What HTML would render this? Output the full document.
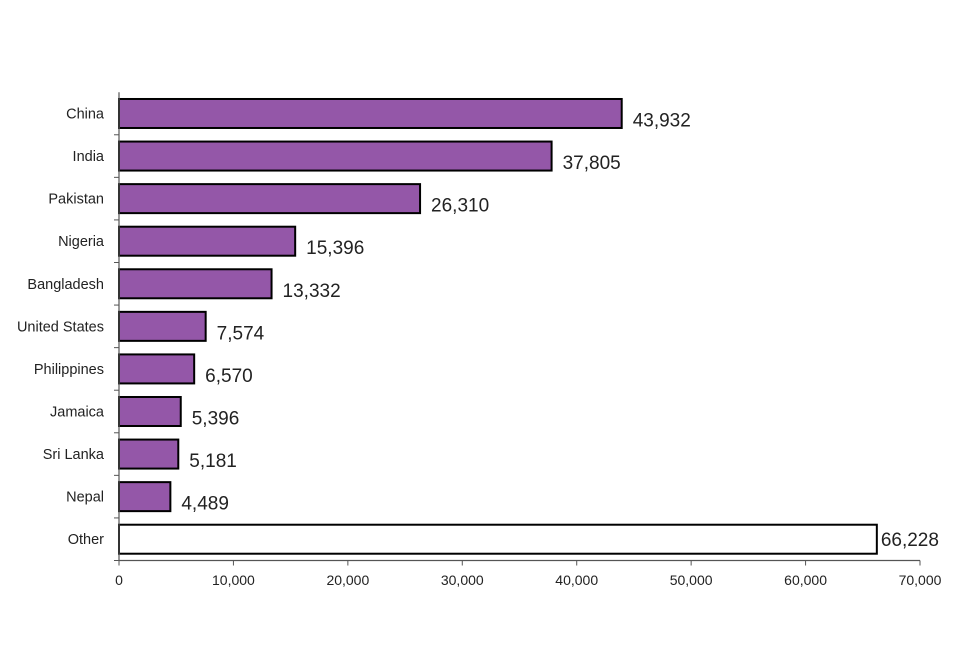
<!DOCTYPE html>
<html><head><meta charset="utf-8"><style>
body{margin:0;background:#fff;}
svg text{font-family:"Liberation Sans",Arial,sans-serif;fill:#222;}
</style></head><body>
<svg id="chart" width="960" height="640" xmlns="http://www.w3.org/2000/svg"></svg>
<script>
const categories=["China","India","Pakistan","Nigeria","Bangladesh","United States","Philippines","Jamaica","Sri Lanka","Nepal","Other"];
const values=[43932,37805,26310,15396,13332,7574,6570,5396,5181,4489,66228];
const valueLabels=["43,932","37,805","26,310","15,396","13,332","7,574","6,570","5,396","5,181","4,489","66,228"];
const xTicks=[0,10000,20000,30000,40000,50000,60000,70000];
const xTickLabels=["0","10,000","20,000","30,000","40,000","50,000","60,000","70,000"];
const NS="http://www.w3.org/2000/svg";
const svgEl=document.getElementById('chart');
const x0=119,x1=920,xMax=70000,yTop=92.2,yBottom=560.5;
const band=(yBottom-yTop)/categories.length;
const xs=v=>x0+v/xMax*(x1-x0);
function mk(t,a){const e=document.createElementNS(NS,t);for(const k in a)e.setAttribute(k,a[k]);svgEl.appendChild(e);return e;}
categories.forEach((c,i)=>{
  const cy=yTop+band*(i+0.5);
  const isLast=i===categories.length-1;
  const r=mk('rect',{x:x0,y:cy-14.5,width:xs(values[i])-x0,height:29,fill:isLast?'#fff':'#9457a8',stroke:'#000','stroke-width':2});
  
  
  const l=mk('text',{x:x0-15,y:cy+5,'font-size':14.5,'text-anchor':'end'});l.textContent=c;
  
  
  const v=mk('text',{x:xs(values[i])+(isLast?4:11),y:cy+(isLast?7:13),'font-size':19});v.textContent=valueLabels[i];
  
  
  const t=mk('line',{x1:x0-5,x2:x0,y1:yTop+band*(i+1),y2:yTop+band*(i+1),stroke:'#555','stroke-width':1});
  
  
});
const ya=mk('line',{x1:x0,x2:x0,y1:yTop,y2:yBottom,stroke:'#555','stroke-width':1.2});


const xa=mk('line',{x1:x0,x2:x1,y1:yBottom,y2:yBottom,stroke:'#555','stroke-width':1.2});


xTicks.forEach((v,i)=>{
  const t=mk('line',{x1:xs(v),x2:xs(v),y1:yBottom,y2:yBottom+5,stroke:'#555','stroke-width':1});
  
  
  const l=mk('text',{x:xs(v),y:585,'font-size':14,'text-anchor':'middle'});l.textContent=xTickLabels[i];
  
  
});
</script>
</body></html>
